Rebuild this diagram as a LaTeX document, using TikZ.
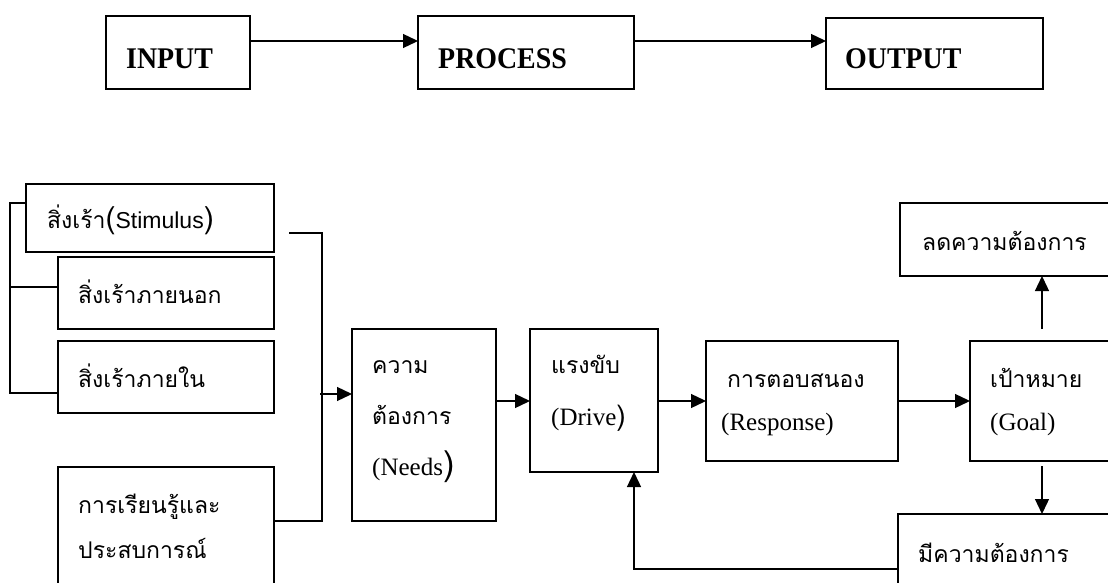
\documentclass[tikz,border=0pt]{standalone}
\usepackage{fontspec}
\setmainfont{Liberation Serif}
\newfontfamily\thai[Script=Thai]{Loma}
\newfontfamily\arial{Liberation Sans}
\usetikzlibrary{arrows.meta,calc}
\tikzset{
 box/.style={draw, line width=1.4pt, anchor=north west, inner sep=0pt, outer sep=0pt},
 ln/.style={line width=1.3pt},
 arr/.style={line width=1.3pt, -{Triangle[length=15pt,width=14pt]}},
 txt/.style={anchor=base west, inner sep=0pt},
 th/.style={txt, font=\thai\fontsize{23}{28}\selectfont},
 la/.style={txt, font=\fontsize{25}{28}\selectfont},
 hd/.style={txt, font=\bfseries\fontsize{30}{34}\selectfont},
}
\begin{document}
\begin{tikzpicture}[x=1pt,y=-1pt]
\useasboundingbox (0,0) rectangle (1108,583);
\clip (0,0) rectangle (1108,583);
\fill[white] (0,0) rectangle (1108,583);
% top row
\node[box, minimum width=144pt, minimum height=73pt] (input) at (106,16) {};
\node[box, minimum width=216pt, minimum height=73pt] (process) at (418,16) {};
\node[box, minimum width=217pt, minimum height=71pt] (output) at (826,18) {};
\node[hd] (tin) at (126,69) {\scalebox{0.93}[1]{INPUT}};
\node[hd] (tpr) at (438,69) {\scalebox{0.93}[1]{PROCESS}};
\node[hd] (tou) at (845,69) {\scalebox{0.93}[1]{OUTPUT}};
\draw[arr] ($(input.north east)+(0,25)$) -- ($(process.north west)+(0,25)$);
\draw[arr] ($(process.north east)+(0,25)$) -- ($(output.north west)+(0,23)$);
% left boxes
\node[box, minimum width=248pt, minimum height=68pt] (stim) at (26,184) {};
\node[box, minimum width=216pt, minimum height=72pt] (ext) at (58,257) {};
\node[box, minimum width=216pt, minimum height=72pt] (int) at (58,341) {};
\node[box, minimum width=216pt, minimum height=140pt] (learn) at (58,467) {};
\node[th] (tstim) at (47,228) {สิ่งเร้า{\fontsize{30}{30}\selectfont(}{\arial\fontsize{23}{26}\selectfont Stimulus}{\fontsize{30}{30}\selectfont)}};
\node[th] (text) at (78,303) {สิ่งเร้าภายนอก};
\node[th] (tint) at (78,387) {สิ่งเร้าภายใน};
\node[th] (tle1) at (78,513) {การเรียนรู้และ};
\node[th] (tle2) at (78,558) {ประสบการณ์};
\draw[ln] ($(stim.north west)+(0,19)$) -- ++(-16,0) |- ($(int.north west)+(0,52)$);
\draw[ln] ($(ext.north west)+(0,30)$) -- ++(-48,0);
\coordinate (jn) at (320,394);
\draw[ln] ($(stim.north east)+(15,49)$) -| ($(learn.north east)+(48,54)$) -- ($(learn.north east)+(0,54)$);
\draw[arr] (jn) -- (jn -| 352,0);
% middle chain
\node[box, minimum width=144pt, minimum height=192pt] (needs) at (352,329) {};
\node[box, minimum width=128pt, minimum height=143pt] (drive) at (530,329) {};
\node[box, minimum width=192pt, minimum height=120pt] (resp) at (706,341) {};
\node[box, minimum width=160pt, minimum height=120pt] (goal) at (970,341) {};
\node[box, minimum width=230pt, minimum height=73pt] (reduce) at (900,203) {};
\node[box, minimum width=230pt, minimum height=100pt] (have) at (898,514) {};
\node[th] (tn1) at (372,373) {ความ};
\node[th] (tn2) at (372,424) {ต้องการ};
\node[la] (tn3) at (372,475) {(Needs{\thai\fontsize{34}{34}\selectfont)}};
\node[th] (td1) at (551,373) {แรงขับ};
\node[la] (td2) at (551,425) {(Drive{\thai\fontsize{28}{30}\selectfont)}};
\node[th] (tr1) at (727,387) {การตอบสนอง};
\node[la] (tr2) at (721,430) {(Response)};
\node[th] (tg1) at (990,387) {เป้าหมาย};
\node[la] (tg2) at (990,430) {(Goal)};
\node[th] (tred) at (922,250) {ลดความต้องการ};
\node[th] (thav) at (918,562) {มีความต้องการ};
\draw[arr] ($(needs.north east)+(0,72)$) -- ($(drive.north west)+(0,72)$);
\draw[arr] (drive.east |- resp.west) -- (resp.west);
\draw[arr] (resp.east) -- (goal.west);
\draw[arr] ($(goal.north west)+(72,-12)$) -- ($(reduce.south west)+(142,0)$);
\draw[arr] ($(goal.south west)+(72,5)$) -- ($(have.north west)+(144,0)$);
\draw[arr] ($(have.north west)+(0,55)$) -| ($(drive.south west)+(104,0)$);
\end{tikzpicture}
\end{document}
